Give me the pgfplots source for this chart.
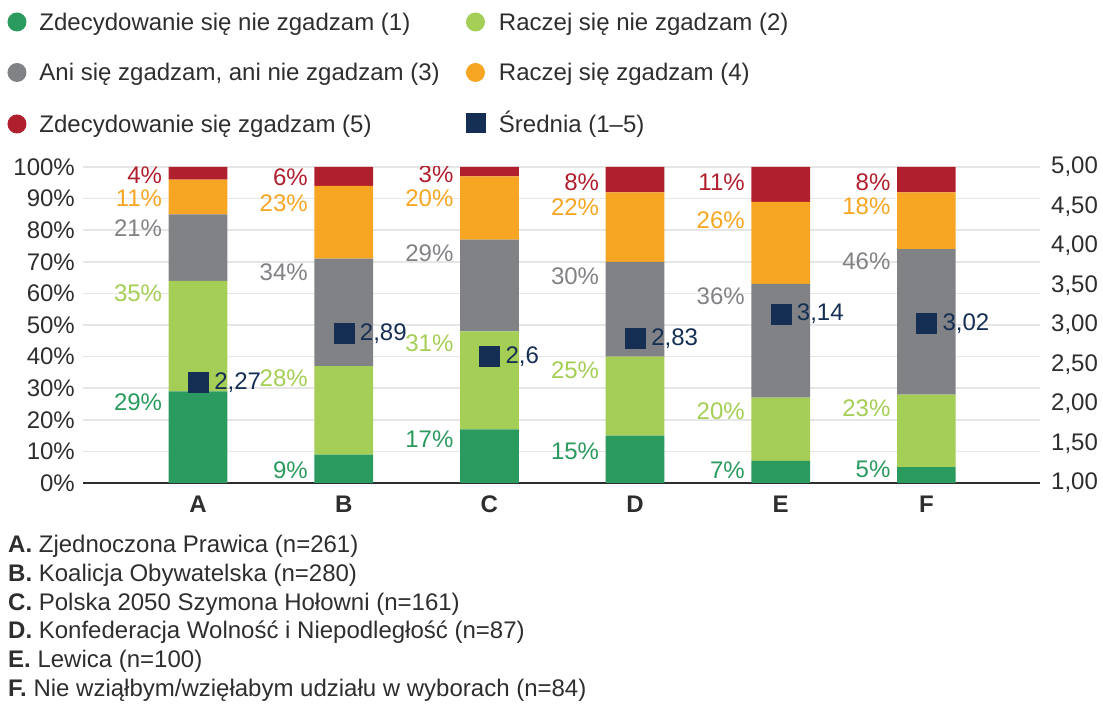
\documentclass[border=0pt]{standalone}
\usepackage{fontspec}
\setmainfont{Liberation Sans}
\usepackage{pgfplots}
\usepackage{pgfplotstable}
\pgfplotsset{compat=1.18}
\pgfplotsset{/pgf/number format/assume math mode=true}
\definecolor{cA}{HTML}{2A9A5E}
\definecolor{cB}{HTML}{A4CE55}
\definecolor{cC}{HTML}{818285}
\definecolor{cD}{HTML}{F6A623}
\definecolor{cE}{HTML}{B01F2E}
\definecolor{cN}{HTML}{152F54}
\definecolor{txt}{HTML}{2E2E2E}
\definecolor{grd}{HTML}{E6E6E6}
\newcommand\fs{\fontsize{24bp}{28.8bp}\selectfont}
\newcommand\lb[1]{\makebox[426.5bp][l]{#1}}
\pgfplotsset{
  circleg/.style={legend image code/.code={\fill[##1] (9.5bp,2.5bp) circle (9.5bp);}},
  squareleg/.style={legend image code/.code={\fill[##1] (0bp,-7bp) rectangle (20bp,13bp);}},
}
\pgfplotstableread{
x s1 s2 s3 s4 s5
0 29 35 21 11 4
1 9 28 34 23 6
2 17 31 29 20 3
3 15 25 30 22 8
4 7 20 36 26 11
5 5 23 46 18 8
}\stacks
\pgfplotstableread{
x m l
0 2.27 2,27
1 2.89 2,89
2 2.6 2,6
3 2.83 2,83
4 3.14 3,14
5 3.02 3,02
}\means
\newcommand\pl[4]{\node[anchor=east, inner sep=0pt, text=#4, xshift=-35.8bp] at (axis cs:#1,#2) {#3\%};}
\begin{document}
\fs
\begin{tikzpicture}[font=\fs]
\useasboundingbox (0,0) rectangle (1103bp,704bp);
\begin{axis}[
  at={(83bp,221bp)}, anchor=south west,
  scale only axis, width=957bp, height=316bp,
  ybar stacked, bar width=58.7bp,
  xmin=-0.79, xmax=5.78, ymin=0, ymax=100,
  xtick={0,1,2,3,4,5}, xticklabels={A,B,C,D,E,F},
  xticklabel style={font=\fs\bfseries, text=txt, yshift=-5bp},
  ytick={0,10,...,100},
  yticklabel={\pgfmathprintnumber{\tick}\%},
  yticklabel style={text=txt},
  major tick length=0pt,
  ymajorgrids, major grid style={grd, line width=1.5bp},
  axis x line*=bottom, axis y line*=left,
  x axis line style={-, color=txt, line width=2.5bp},
  y axis line style={draw=none},
  legend columns=2,
  legend cell align=left,
  legend style={at={(axis description cs:-0.0789,1.489)}, anchor=north west,
    draw=none, fill=none, inner sep=0pt, outer sep=0pt,
    column sep=0pt, row sep=27bp,
    nodes={inner sep=0pt, text=txt, text height=17.5bp, text depth=5.5bp},
    /tikz/every odd column/.append style={column sep=13bp}},
]
\addplot[fill=cA, draw=none, circleg] table[x=x,y=s1] {\stacks};
\addlegendentry{\lb{Zdecydowanie się nie zgadzam (1)}}
\addplot[fill=cB, draw=none, circleg] table[x=x,y=s2] {\stacks};
\addlegendentry{Raczej się nie zgadzam (2)}
\addplot[fill=cC, draw=none, circleg] table[x=x,y=s3] {\stacks};
\addlegendentry{\lb{Ani się zgadzam, ani nie zgadzam (3)}}
\addplot[fill=cD, draw=none, circleg] table[x=x,y=s4] {\stacks};
\addlegendentry{Raczej się zgadzam (4)}
\addplot[fill=cE, draw=none, circleg] table[x=x,y=s5] {\stacks};
\addlegendentry{\lb{Zdecydowanie się zgadzam (5)}}
\addlegendimage{squareleg, fill=cN, draw=none}
\addlegendentry{Średnia (1–5)}
% labels A
\pl{0}{97.5}{4}{cE}\pl{0}{90.2}{11}{cD}\pl{0}{80.7}{21}{cC}\pl{0}{60.1}{35}{cB}\pl{0}{25.7}{29}{cA}
% B
\pl{1}{96.8}{6}{cE}\pl{1}{88.6}{23}{cD}\pl{1}{66.8}{34}{cC}\pl{1}{33.2}{28}{cB}\pl{1}{4.1}{9}{cA}
% C
\pl{2}{97.8}{3}{cE}\pl{2}{90.2}{20}{cD}\pl{2}{72.8}{29}{cC}\pl{2}{44.3}{31}{cB}\pl{2}{13.9}{17}{cA}
% D
\pl{3}{95.3}{8}{cE}\pl{3}{87.3}{22}{cD}\pl{3}{65.5}{30}{cC}\pl{3}{35.8}{25}{cB}\pl{3}{10.1}{15}{cA}
% E
\pl{4}{95.3}{11}{cE}\pl{4}{83.2}{26}{cD}\pl{4}{59.2}{36}{cC}\pl{4}{22.8}{20}{cB}\pl{4}{4.1}{7}{cA}
% F
\pl{5}{95.3}{8}{cE}\pl{5}{87.6}{18}{cD}\pl{5}{70.3}{46}{cC}\pl{5}{23.7}{23}{cB}\pl{5}{4.4}{5}{cA}
\end{axis}
\begin{axis}[
  at={(83bp,221bp)}, anchor=south west,
  scale only axis, width=957bp, height=316bp,
  xmin=-0.79, xmax=5.78, ymin=1, ymax=5,
  axis x line=none, axis y line*=right,
  y axis line style={draw=none},
  ytick={1,1.5,2,2.5,3,3.5,4,4.5,5},
  major tick length=0pt,
  yticklabel style={/pgf/number format/.cd, fixed, fixed zerofill, precision=2, use comma, /tikz/.cd, text=txt, xshift=3bp},
]
\addplot[only marks, mark=square*, mark size=10bp, color=cN,
  nodes near coords, point meta=explicit symbolic,
  every node near coord/.append style={anchor=west, inner sep=0pt, xshift=16bp, text=cN}]
  table[x=x,y=m,meta=l] {\means};
\end{axis}
\node[anchor=base west, text=txt, inner sep=0pt] at (8bp,151bp) {\textbf{A.} Zjednoczona Prawica (n=261)};
\node[anchor=base west, text=txt, inner sep=0pt] at (8bp,122.4bp) {\textbf{B.} Koalicja Obywatelska (n=280)};
\node[anchor=base west, text=txt, inner sep=0pt] at (8bp,93.8bp) {\textbf{C.} Polska 2050 Szymona Hołowni (n=161)};
\node[anchor=base west, text=txt, inner sep=0pt] at (8bp,65.2bp) {\textbf{D.} Konfederacja Wolność i Niepodległość (n=87)};
\node[anchor=base west, text=txt, inner sep=0pt] at (8bp,36.6bp) {\textbf{E.} Lewica (n=100)};
\node[anchor=base west, text=txt, inner sep=0pt] at (8bp,8bp) {\textbf{F.} Nie wziąłbym/wzięłabym udziału w wyborach (n=84)};
\end{tikzpicture}
\end{document}
